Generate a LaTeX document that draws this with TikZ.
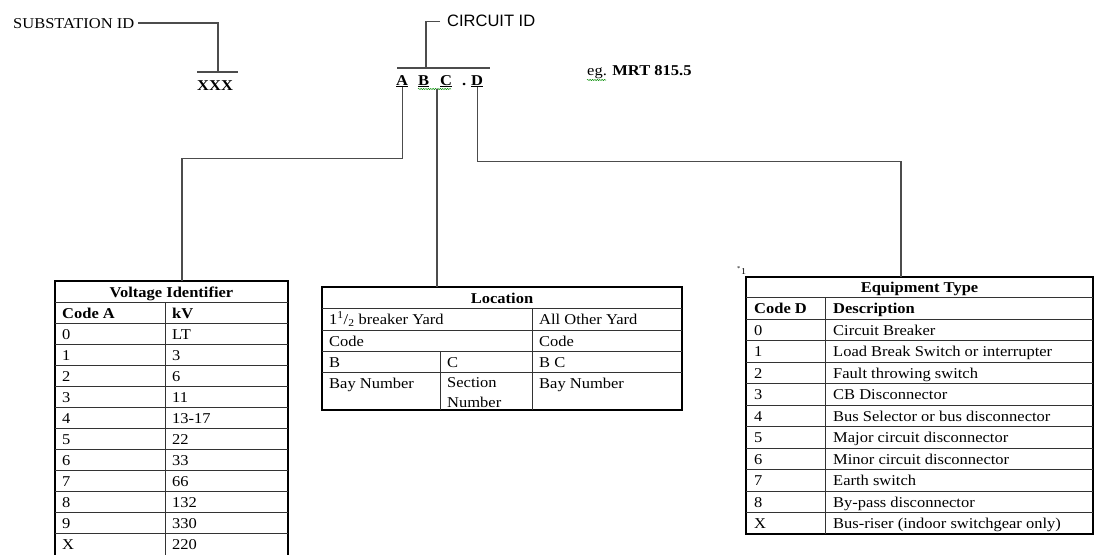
\documentclass[tikz,border=0pt]{standalone}
\usepackage{fontspec}
\setmainfont{Liberation Serif}[FakeStretch=1.1]
\setsansfont{Liberation Sans}
\usetikzlibrary{calc,positioning,decorations.pathmorphing}

\begin{document}
\begin{tikzpicture}[x=1pt, y=-1pt,
    txt/.style={inner sep=0pt, anchor=base west, font=\fontsize{15}{20}\selectfont},
    head/.style={txt, font=\fontsize{15}{20}\selectfont\bfseries},
    ttl/.style={txt, anchor=base, font=\fontsize{15}{20}\selectfont\bfseries},
    tabframe/.style={rectangle, draw=black, line width=1.8pt, anchor=north west, inner sep=0pt, outer sep=0pt},
    rule/.style={draw=black!80, line width=0.8pt},
    link/.style={draw=black!70, line width=1.3pt},
    squiggle/.style={draw=green!55!black, line width=0.5pt, decorate, decoration={snake, amplitude=0.6pt, segment length=2.4pt}}]

    \useasboundingbox (0,0) rectangle (1097,554);

    % substation and circuit id
    \node[txt] at (13,28) (subst) {SUBSTATION ID};
    \node[head] at (197,90) (xxx) {XXX};
    \coordinate (subfoot) at (218,72);
    \draw[link] ([xshift=4pt]subst.east) -| (subfoot);
    \draw[link] (197,72) -- (238,72);

    \node[txt, font=\fontsize{16.5}{20}\selectfont\sffamily] at (447,27) (circ) {CIRCUIT ID};
    \coordinate (circfoot) at (426,68);
    \draw[link] ([xshift=-7pt]circ.west) -| (circfoot);
    \draw[link] (397,68) -- (490,68);

    \node[head] at (396,85) (lA) {\underline{A}};
    \node[head] at (418,85) (lB) {\underline{B}};
    \node[head] at (440,85) (lC) {\underline{C}};
    \node[head] at (462,85) (dot) {.};
    \node[head] at (471,85) (lD) {\underline{D}};
    \coordinate (bcfoot) at (437,89);
    \draw[squiggle] (418,89) -- (451,89);

    \node[txt] at (587,75) (eg) {eg. \textbf{MRT 815.5}};
    \draw[squiggle] (587,80) -- (606,80);

    % voltage table
    \node[tabframe, minimum width=233pt, minimum height=275pt] at (55,281) (volt) {};
    \draw[rule] (55,302) -- (288,302);
    \foreach \i in {0,...,10}
        \draw[rule] (55,{323+21*\i}) -- (288,{323+21*\i});
    \draw[rule] (165,302) -- (165,556);
    \node[ttl] at (171.5,297) (volttitle) {Voltage Identifier};
    \node[head] at (62,318) (codeA) {Code A};
    \node[head] at (172,318) (kv) {kV};
    \foreach \c/\v [count=\i from 0] in {0/LT,1/3,2/6,3/11,4/13-17,5/22,6/33,7/66,8/132,9/330,X/220} {
        \node[txt] at (62,{339+21*\i}) (va\i) {\c};
        \node[txt] at (172,{339+21*\i}) (vb\i) {\v};
    }

    % location table
    \node[tabframe, minimum width=360pt, minimum height=123pt] at (322,287) (loc) {};
    \foreach \y in {308,330,351,372}
        \draw[rule] (322,\y) -- (682,\y);
    \draw[rule] (532,308) -- (532,410);
    \draw[rule] (440,351) -- (440,410);
    \node[ttl] at (502,303) (loctitle) {Location};
    \node[txt] at (329,324) (yard) {1\textsuperscript{1}/\textsubscript{2} breaker Yard};
    \node[txt] at (539,324) (other) {All Other Yard};
    \node[txt] at (329,346) (codeB) {Code};
    \node[txt] at (539,346) (codeO) {Code};
    \node[txt] at (329,367) (colB) {B};
    \node[txt] at (447,367) (colC) {C};
    \node[txt] at (539,367) (colBC) {B C};
    \node[txt] at (329,388) (bay) {Bay Number};
    \node[txt, align=left, anchor=north west] at (447,377) (section) {Section\\Number};
    \node[txt] at (539,388) (bayO) {Bay Number};

    % equipment table
    \node[tabframe, minimum width=347pt, minimum height=257pt] at (746,277) (equip) {};
    \draw[rule] (746,297) -- (1093,297);
    \foreach \i in {0,...,9}
        \draw[rule] (746,{319+21.5*\i}) -- (1093,{319+21.5*\i});
    \draw[rule] (825,297) -- (825,534);
    \node[ttl] at (919.5,292) (equiptitle) {Equipment Type};
    \node[head] at (754,313) (codeD) {Code D};
    \node[head] at (833,313) (desc) {Description};
    \foreach \c/\d [count=\i from 0] in {0/Circuit Breaker,1/Load Break Switch or interrupter,2/Fault throwing switch,3/CB Disconnector,4/Bus Selector or bus disconnector,5/Major circuit disconnector,6/Minor circuit disconnector,7/Earth switch,8/By-pass disconnector,X/Bus-riser (indoor switchgear only)} {
        \node[txt] at (754,{335+21.5*\i}) (ea\i) {\c};
        \node[txt] at (833,{335+21.5*\i}) (eb\i) {\d};
    }
    \node[txt, font=\fontsize{9}{10}\selectfont] at (737,274) (note) {\textsuperscript{*}1};

    % connectors to the tables
    \coordinate (voltin) at ([xshift=127pt]volt.north west);
    \coordinate (equipin) at ([xshift=155pt]equip.north west);
    \draw[link] (lA.south) -- ++(0,71) -| (voltin);
    \draw[link] (bcfoot) -- (bcfoot |- loc.north);
    \draw[link] (lD.south) -- ++(0,74) -| (equipin);
\end{tikzpicture}
\end{document}
